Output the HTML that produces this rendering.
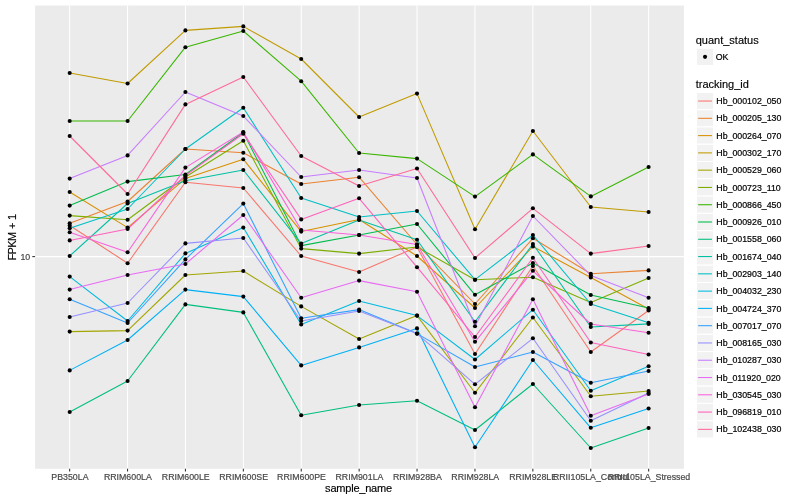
<!DOCTYPE html><html><head><meta charset="utf-8"><title>plot</title><style>html,body{margin:0;padding:0;background:#fff}svg{display:block}text{font-family:"Liberation Sans",sans-serif}</style></head><body>
<svg width="800" height="500" viewBox="0 0 800 500">
<rect width="800" height="500" fill="#fff"/>
<rect x="35.1" y="5.5" width="648.8" height="463.3" fill="#EBEBEB"/>
<g stroke="#fff" stroke-width="1.07">
<line x1="35.1" x2="683.9" y1="256.6" y2="256.6"/>
<line x1="69.65" x2="69.65" y1="5.5" y2="468.8"/>
<line x1="127.55000000000001" x2="127.55000000000001" y1="5.5" y2="468.8"/>
<line x1="185.45" x2="185.45" y1="5.5" y2="468.8"/>
<line x1="243.35" x2="243.35" y1="5.5" y2="468.8"/>
<line x1="301.25" x2="301.25" y1="5.5" y2="468.8"/>
<line x1="359.15" x2="359.15" y1="5.5" y2="468.8"/>
<line x1="417.04999999999995" x2="417.04999999999995" y1="5.5" y2="468.8"/>
<line x1="474.95000000000005" x2="474.95000000000005" y1="5.5" y2="468.8"/>
<line x1="532.85" x2="532.85" y1="5.5" y2="468.8"/>
<line x1="590.75" x2="590.75" y1="5.5" y2="468.8"/>
<line x1="648.65" x2="648.65" y1="5.5" y2="468.8"/>
</g>
<g fill="none" stroke-width="1.07" stroke-linejoin="round" stroke-linecap="butt">
<polyline stroke="#F8766D" points="69.7,225.5 127.6,263.2 185.4,182.2 243.3,188.0 301.2,256.0 359.1,272.0 417.0,247.0 475.0,354.0 532.9,266.0 590.8,352.0 648.6,310.5"/>
<polyline stroke="#EA8331" points="69.7,223.2 127.6,201.5 185.4,149.0 243.3,152.8 301.2,184.0 359.1,177.2 417.0,244.5 475.0,304.0 532.9,238.3 590.8,273.8 648.6,270.4"/>
<polyline stroke="#D89000" points="69.7,192.0 127.6,227.6 185.4,178.6 243.3,159.2 301.2,231.6 359.1,219.5 417.0,256.0 475.0,308.0 532.9,246.5 590.8,277.5 648.6,309.0"/>
<polyline stroke="#C09B00" points="69.7,73.0 127.6,83.5 185.4,30.4 243.3,26.4 301.2,59.0 359.1,117.0 417.0,93.6 475.0,229.2 532.9,131.0 590.8,207.0 648.6,212.0"/>
<polyline stroke="#A3A500" points="69.7,331.6 127.6,330.6 185.4,275.0 243.3,271.0 301.2,306.4 359.1,339.0 417.0,315.6 475.0,392.8 532.9,317.5 590.8,396.3 648.6,391.0"/>
<polyline stroke="#7CAE00" points="69.7,215.6 127.6,219.8 185.4,177.0 243.3,140.8 301.2,248.6 359.1,253.6 417.0,247.0 475.0,279.7 532.9,277.2 590.8,302.5 648.6,278.0"/>
<polyline stroke="#39B600" points="69.7,121.0 127.6,121.0 185.4,47.2 243.3,31.0 301.2,81.2 359.1,153.0 417.0,158.6 475.0,196.6 532.9,154.4 590.8,196.4 648.6,167.0"/>
<polyline stroke="#00BB4E" points="69.7,205.6 127.6,181.6 185.4,174.5 243.3,132.5 301.2,245.6 359.1,235.0 417.0,224.0 475.0,294.8 532.9,263.0 590.8,295.0 648.6,308.0"/>
<polyline stroke="#00BF7D" points="69.7,412.0 127.6,381.0 185.4,304.4 243.3,312.4 301.2,415.2 359.1,405.0 417.0,400.8 475.0,430.0 532.9,384.0 590.8,448.0 648.6,428.0"/>
<polyline stroke="#00C1A3" points="69.7,256.0 127.6,203.5 185.4,180.8 243.3,170.0 301.2,243.6 359.1,220.0 417.0,239.8 475.0,321.8 532.9,244.0 590.8,327.0 648.6,323.9"/>
<polyline stroke="#00BFC4" points="69.7,228.2 127.6,209.0 185.4,149.0 243.3,107.8 301.2,198.0 359.1,217.0 417.0,211.0 475.0,279.7 532.9,235.0 590.8,304.0 648.6,322.8"/>
<polyline stroke="#00BAE0" points="69.7,276.6 127.6,321.0 185.4,253.4 243.3,227.6 301.2,324.5 359.1,301.0 417.0,315.6 475.0,359.5 532.9,309.7 590.8,390.8 648.6,366.3"/>
<polyline stroke="#00B0F6" points="69.7,370.4 127.6,340.0 185.4,289.6 243.3,296.6 301.2,365.4 359.1,347.4 417.0,328.4 475.0,447.2 532.9,360.0 590.8,427.8 648.6,408.5"/>
<polyline stroke="#35A2FF" points="69.7,299.2 127.6,323.0 185.4,259.4 243.3,203.6 301.2,318.2 359.1,309.6 417.0,333.6 475.0,367.0 532.9,352.0 590.8,382.7 648.6,371.0"/>
<polyline stroke="#9590FF" points="69.7,317.0 127.6,303.0 185.4,243.4 243.3,238.0 301.2,321.0 359.1,311.0 417.0,333.6 475.0,384.3 532.9,338.3 590.8,420.8 648.6,393.0"/>
<polyline stroke="#C77CFF" points="69.7,178.6 127.6,155.4 185.4,92.0 243.3,116.0 301.2,177.0 359.1,170.0 417.0,178.0 475.0,326.3 532.9,216.0 590.8,275.5 648.6,297.8"/>
<polyline stroke="#E76BF3" points="69.7,289.6 127.6,275.0 185.4,264.0 243.3,215.0 301.2,297.8 359.1,280.6 417.0,291.8 475.0,407.2 532.9,299.3 590.8,415.8 648.6,394.0"/>
<polyline stroke="#FA62DB" points="69.7,232.2 127.6,252.2 185.4,167.6 243.3,132.0 301.2,230.0 359.1,235.0 417.0,244.5 475.0,341.8 532.9,270.8 590.8,324.0 648.6,332.8"/>
<polyline stroke="#FF62BC" points="69.7,240.4 127.6,229.0 185.4,175.5 243.3,133.8 301.2,219.4 359.1,198.3 417.0,267.2 475.0,337.0 532.9,257.8 590.8,342.5 648.6,354.5"/>
<polyline stroke="#FF6A98" points="69.7,136.0 127.6,194.0 185.4,104.4 243.3,77.0 301.2,156.0 359.1,186.0 417.0,168.5 475.0,258.0 532.9,208.3 590.8,253.6 648.6,246.0"/>
</g>
<g fill="#000">
<circle cx="69.7" cy="225.5" r="2.05"/>
<circle cx="127.6" cy="263.2" r="2.05"/>
<circle cx="185.4" cy="182.2" r="2.05"/>
<circle cx="243.3" cy="188.0" r="2.05"/>
<circle cx="301.2" cy="256.0" r="2.05"/>
<circle cx="359.1" cy="272.0" r="2.05"/>
<circle cx="417.0" cy="247.0" r="2.05"/>
<circle cx="475.0" cy="354.0" r="2.05"/>
<circle cx="532.9" cy="266.0" r="2.05"/>
<circle cx="590.8" cy="352.0" r="2.05"/>
<circle cx="648.6" cy="310.5" r="2.05"/>
<circle cx="69.7" cy="223.2" r="2.05"/>
<circle cx="127.6" cy="201.5" r="2.05"/>
<circle cx="185.4" cy="149.0" r="2.05"/>
<circle cx="243.3" cy="152.8" r="2.05"/>
<circle cx="301.2" cy="184.0" r="2.05"/>
<circle cx="359.1" cy="177.2" r="2.05"/>
<circle cx="417.0" cy="244.5" r="2.05"/>
<circle cx="475.0" cy="304.0" r="2.05"/>
<circle cx="532.9" cy="238.3" r="2.05"/>
<circle cx="590.8" cy="273.8" r="2.05"/>
<circle cx="648.6" cy="270.4" r="2.05"/>
<circle cx="69.7" cy="192.0" r="2.05"/>
<circle cx="127.6" cy="227.6" r="2.05"/>
<circle cx="185.4" cy="178.6" r="2.05"/>
<circle cx="243.3" cy="159.2" r="2.05"/>
<circle cx="301.2" cy="231.6" r="2.05"/>
<circle cx="359.1" cy="219.5" r="2.05"/>
<circle cx="417.0" cy="256.0" r="2.05"/>
<circle cx="475.0" cy="308.0" r="2.05"/>
<circle cx="532.9" cy="246.5" r="2.05"/>
<circle cx="590.8" cy="277.5" r="2.05"/>
<circle cx="648.6" cy="309.0" r="2.05"/>
<circle cx="69.7" cy="73.0" r="2.05"/>
<circle cx="127.6" cy="83.5" r="2.05"/>
<circle cx="185.4" cy="30.4" r="2.05"/>
<circle cx="243.3" cy="26.4" r="2.05"/>
<circle cx="301.2" cy="59.0" r="2.05"/>
<circle cx="359.1" cy="117.0" r="2.05"/>
<circle cx="417.0" cy="93.6" r="2.05"/>
<circle cx="475.0" cy="229.2" r="2.05"/>
<circle cx="532.9" cy="131.0" r="2.05"/>
<circle cx="590.8" cy="207.0" r="2.05"/>
<circle cx="648.6" cy="212.0" r="2.05"/>
<circle cx="69.7" cy="331.6" r="2.05"/>
<circle cx="127.6" cy="330.6" r="2.05"/>
<circle cx="185.4" cy="275.0" r="2.05"/>
<circle cx="243.3" cy="271.0" r="2.05"/>
<circle cx="301.2" cy="306.4" r="2.05"/>
<circle cx="359.1" cy="339.0" r="2.05"/>
<circle cx="417.0" cy="315.6" r="2.05"/>
<circle cx="475.0" cy="392.8" r="2.05"/>
<circle cx="532.9" cy="317.5" r="2.05"/>
<circle cx="590.8" cy="396.3" r="2.05"/>
<circle cx="648.6" cy="391.0" r="2.05"/>
<circle cx="69.7" cy="215.6" r="2.05"/>
<circle cx="127.6" cy="219.8" r="2.05"/>
<circle cx="185.4" cy="177.0" r="2.05"/>
<circle cx="243.3" cy="140.8" r="2.05"/>
<circle cx="301.2" cy="248.6" r="2.05"/>
<circle cx="359.1" cy="253.6" r="2.05"/>
<circle cx="417.0" cy="247.0" r="2.05"/>
<circle cx="475.0" cy="279.7" r="2.05"/>
<circle cx="532.9" cy="277.2" r="2.05"/>
<circle cx="590.8" cy="302.5" r="2.05"/>
<circle cx="648.6" cy="278.0" r="2.05"/>
<circle cx="69.7" cy="121.0" r="2.05"/>
<circle cx="127.6" cy="121.0" r="2.05"/>
<circle cx="185.4" cy="47.2" r="2.05"/>
<circle cx="243.3" cy="31.0" r="2.05"/>
<circle cx="301.2" cy="81.2" r="2.05"/>
<circle cx="359.1" cy="153.0" r="2.05"/>
<circle cx="417.0" cy="158.6" r="2.05"/>
<circle cx="475.0" cy="196.6" r="2.05"/>
<circle cx="532.9" cy="154.4" r="2.05"/>
<circle cx="590.8" cy="196.4" r="2.05"/>
<circle cx="648.6" cy="167.0" r="2.05"/>
<circle cx="69.7" cy="205.6" r="2.05"/>
<circle cx="127.6" cy="181.6" r="2.05"/>
<circle cx="185.4" cy="174.5" r="2.05"/>
<circle cx="243.3" cy="132.5" r="2.05"/>
<circle cx="301.2" cy="245.6" r="2.05"/>
<circle cx="359.1" cy="235.0" r="2.05"/>
<circle cx="417.0" cy="224.0" r="2.05"/>
<circle cx="475.0" cy="294.8" r="2.05"/>
<circle cx="532.9" cy="263.0" r="2.05"/>
<circle cx="590.8" cy="295.0" r="2.05"/>
<circle cx="648.6" cy="308.0" r="2.05"/>
<circle cx="69.7" cy="412.0" r="2.05"/>
<circle cx="127.6" cy="381.0" r="2.05"/>
<circle cx="185.4" cy="304.4" r="2.05"/>
<circle cx="243.3" cy="312.4" r="2.05"/>
<circle cx="301.2" cy="415.2" r="2.05"/>
<circle cx="359.1" cy="405.0" r="2.05"/>
<circle cx="417.0" cy="400.8" r="2.05"/>
<circle cx="475.0" cy="430.0" r="2.05"/>
<circle cx="532.9" cy="384.0" r="2.05"/>
<circle cx="590.8" cy="448.0" r="2.05"/>
<circle cx="648.6" cy="428.0" r="2.05"/>
<circle cx="69.7" cy="256.0" r="2.05"/>
<circle cx="127.6" cy="203.5" r="2.05"/>
<circle cx="185.4" cy="180.8" r="2.05"/>
<circle cx="243.3" cy="170.0" r="2.05"/>
<circle cx="301.2" cy="243.6" r="2.05"/>
<circle cx="359.1" cy="220.0" r="2.05"/>
<circle cx="417.0" cy="239.8" r="2.05"/>
<circle cx="475.0" cy="321.8" r="2.05"/>
<circle cx="532.9" cy="244.0" r="2.05"/>
<circle cx="590.8" cy="327.0" r="2.05"/>
<circle cx="648.6" cy="323.9" r="2.05"/>
<circle cx="69.7" cy="228.2" r="2.05"/>
<circle cx="127.6" cy="209.0" r="2.05"/>
<circle cx="185.4" cy="149.0" r="2.05"/>
<circle cx="243.3" cy="107.8" r="2.05"/>
<circle cx="301.2" cy="198.0" r="2.05"/>
<circle cx="359.1" cy="217.0" r="2.05"/>
<circle cx="417.0" cy="211.0" r="2.05"/>
<circle cx="475.0" cy="279.7" r="2.05"/>
<circle cx="532.9" cy="235.0" r="2.05"/>
<circle cx="590.8" cy="304.0" r="2.05"/>
<circle cx="648.6" cy="322.8" r="2.05"/>
<circle cx="69.7" cy="276.6" r="2.05"/>
<circle cx="127.6" cy="321.0" r="2.05"/>
<circle cx="185.4" cy="253.4" r="2.05"/>
<circle cx="243.3" cy="227.6" r="2.05"/>
<circle cx="301.2" cy="324.5" r="2.05"/>
<circle cx="359.1" cy="301.0" r="2.05"/>
<circle cx="417.0" cy="315.6" r="2.05"/>
<circle cx="475.0" cy="359.5" r="2.05"/>
<circle cx="532.9" cy="309.7" r="2.05"/>
<circle cx="590.8" cy="390.8" r="2.05"/>
<circle cx="648.6" cy="366.3" r="2.05"/>
<circle cx="69.7" cy="370.4" r="2.05"/>
<circle cx="127.6" cy="340.0" r="2.05"/>
<circle cx="185.4" cy="289.6" r="2.05"/>
<circle cx="243.3" cy="296.6" r="2.05"/>
<circle cx="301.2" cy="365.4" r="2.05"/>
<circle cx="359.1" cy="347.4" r="2.05"/>
<circle cx="417.0" cy="328.4" r="2.05"/>
<circle cx="475.0" cy="447.2" r="2.05"/>
<circle cx="532.9" cy="360.0" r="2.05"/>
<circle cx="590.8" cy="427.8" r="2.05"/>
<circle cx="648.6" cy="408.5" r="2.05"/>
<circle cx="69.7" cy="299.2" r="2.05"/>
<circle cx="127.6" cy="323.0" r="2.05"/>
<circle cx="185.4" cy="259.4" r="2.05"/>
<circle cx="243.3" cy="203.6" r="2.05"/>
<circle cx="301.2" cy="318.2" r="2.05"/>
<circle cx="359.1" cy="309.6" r="2.05"/>
<circle cx="417.0" cy="333.6" r="2.05"/>
<circle cx="475.0" cy="367.0" r="2.05"/>
<circle cx="532.9" cy="352.0" r="2.05"/>
<circle cx="590.8" cy="382.7" r="2.05"/>
<circle cx="648.6" cy="371.0" r="2.05"/>
<circle cx="69.7" cy="317.0" r="2.05"/>
<circle cx="127.6" cy="303.0" r="2.05"/>
<circle cx="185.4" cy="243.4" r="2.05"/>
<circle cx="243.3" cy="238.0" r="2.05"/>
<circle cx="301.2" cy="321.0" r="2.05"/>
<circle cx="359.1" cy="311.0" r="2.05"/>
<circle cx="417.0" cy="333.6" r="2.05"/>
<circle cx="475.0" cy="384.3" r="2.05"/>
<circle cx="532.9" cy="338.3" r="2.05"/>
<circle cx="590.8" cy="420.8" r="2.05"/>
<circle cx="648.6" cy="393.0" r="2.05"/>
<circle cx="69.7" cy="178.6" r="2.05"/>
<circle cx="127.6" cy="155.4" r="2.05"/>
<circle cx="185.4" cy="92.0" r="2.05"/>
<circle cx="243.3" cy="116.0" r="2.05"/>
<circle cx="301.2" cy="177.0" r="2.05"/>
<circle cx="359.1" cy="170.0" r="2.05"/>
<circle cx="417.0" cy="178.0" r="2.05"/>
<circle cx="475.0" cy="326.3" r="2.05"/>
<circle cx="532.9" cy="216.0" r="2.05"/>
<circle cx="590.8" cy="275.5" r="2.05"/>
<circle cx="648.6" cy="297.8" r="2.05"/>
<circle cx="69.7" cy="289.6" r="2.05"/>
<circle cx="127.6" cy="275.0" r="2.05"/>
<circle cx="185.4" cy="264.0" r="2.05"/>
<circle cx="243.3" cy="215.0" r="2.05"/>
<circle cx="301.2" cy="297.8" r="2.05"/>
<circle cx="359.1" cy="280.6" r="2.05"/>
<circle cx="417.0" cy="291.8" r="2.05"/>
<circle cx="475.0" cy="407.2" r="2.05"/>
<circle cx="532.9" cy="299.3" r="2.05"/>
<circle cx="590.8" cy="415.8" r="2.05"/>
<circle cx="648.6" cy="394.0" r="2.05"/>
<circle cx="69.7" cy="232.2" r="2.05"/>
<circle cx="127.6" cy="252.2" r="2.05"/>
<circle cx="185.4" cy="167.6" r="2.05"/>
<circle cx="243.3" cy="132.0" r="2.05"/>
<circle cx="301.2" cy="230.0" r="2.05"/>
<circle cx="359.1" cy="235.0" r="2.05"/>
<circle cx="417.0" cy="244.5" r="2.05"/>
<circle cx="475.0" cy="341.8" r="2.05"/>
<circle cx="532.9" cy="270.8" r="2.05"/>
<circle cx="590.8" cy="324.0" r="2.05"/>
<circle cx="648.6" cy="332.8" r="2.05"/>
<circle cx="69.7" cy="240.4" r="2.05"/>
<circle cx="127.6" cy="229.0" r="2.05"/>
<circle cx="185.4" cy="175.5" r="2.05"/>
<circle cx="243.3" cy="133.8" r="2.05"/>
<circle cx="301.2" cy="219.4" r="2.05"/>
<circle cx="359.1" cy="198.3" r="2.05"/>
<circle cx="417.0" cy="267.2" r="2.05"/>
<circle cx="475.0" cy="337.0" r="2.05"/>
<circle cx="532.9" cy="257.8" r="2.05"/>
<circle cx="590.8" cy="342.5" r="2.05"/>
<circle cx="648.6" cy="354.5" r="2.05"/>
<circle cx="69.7" cy="136.0" r="2.05"/>
<circle cx="127.6" cy="194.0" r="2.05"/>
<circle cx="185.4" cy="104.4" r="2.05"/>
<circle cx="243.3" cy="77.0" r="2.05"/>
<circle cx="301.2" cy="156.0" r="2.05"/>
<circle cx="359.1" cy="186.0" r="2.05"/>
<circle cx="417.0" cy="168.5" r="2.05"/>
<circle cx="475.0" cy="258.0" r="2.05"/>
<circle cx="532.9" cy="208.3" r="2.05"/>
<circle cx="590.8" cy="253.6" r="2.05"/>
<circle cx="648.6" cy="246.0" r="2.05"/>
</g>
<g stroke="#333" stroke-width="1.07">
<line x1="32.3" x2="35.1" y1="256.6" y2="256.6"/>
<line x1="69.65" x2="69.65" y1="468.8" y2="471.6"/>
<line x1="127.55000000000001" x2="127.55000000000001" y1="468.8" y2="471.6"/>
<line x1="185.45" x2="185.45" y1="468.8" y2="471.6"/>
<line x1="243.35" x2="243.35" y1="468.8" y2="471.6"/>
<line x1="301.25" x2="301.25" y1="468.8" y2="471.6"/>
<line x1="359.15" x2="359.15" y1="468.8" y2="471.6"/>
<line x1="417.04999999999995" x2="417.04999999999995" y1="468.8" y2="471.6"/>
<line x1="474.95000000000005" x2="474.95000000000005" y1="468.8" y2="471.6"/>
<line x1="532.85" x2="532.85" y1="468.8" y2="471.6"/>
<line x1="590.75" x2="590.75" y1="468.8" y2="471.6"/>
<line x1="648.65" x2="648.65" y1="468.8" y2="471.6"/>
</g>
<g font-size="8.8" fill="#454545" stroke="#4D4D4D" stroke-width="0.2">
<text x="30.2" y="259.8" text-anchor="end">10</text>
<text x="69.95" y="479.9" text-anchor="middle">PB350LA</text>
<text x="127.85" y="479.9" text-anchor="middle">RRIM600LA</text>
<text x="185.75" y="479.9" text-anchor="middle">RRIM600LE</text>
<text x="243.65" y="479.9" text-anchor="middle">RRIM600SE</text>
<text x="301.55" y="479.9" text-anchor="middle">RRIM600PE</text>
<text x="359.45" y="479.9" text-anchor="middle">RRIM901LA</text>
<text x="417.35" y="479.9" text-anchor="middle">RRIM928BA</text>
<text x="475.25" y="479.9" text-anchor="middle">RRIM928LA</text>
<text x="533.15" y="479.9" text-anchor="middle">RRIM928LE</text>
<text x="591.05" y="479.9" text-anchor="middle">RRII105LA_Control</text>
<text x="648.95" y="479.9" text-anchor="middle">RRII105LA_Stressed</text>
</g>
<g font-size="11" fill="#000" stroke="#000" stroke-width="0.15">
<text x="358.6" y="492.2" text-anchor="middle" textLength="67" lengthAdjust="spacing">sample_name</text>
<text transform="translate(16.3,260.6) rotate(-90)" text-anchor="start" style="letter-spacing:-0.6px;word-spacing:0.9px">FPKM + 1</text>
<text x="695.7" y="44">quant_status</text>
<text x="695.7" y="87.6">tracking_id</text>
</g>
<rect x="696.4" y="48.2" width="17.28" height="17.28" fill="#F2F2F2" stroke="#fff" stroke-width="1.07"/>
<circle cx="705.04" cy="56.84" r="2.05" fill="#000"/>
<text x="715.7" y="59.94" font-size="8.8" fill="#000" stroke="#000" stroke-width="0.2">OK</text>
<rect x="696.4" y="92.40" width="17.28" height="17.28" fill="#F2F2F2" stroke="#fff" stroke-width="1.07"/>
<line x1="698.13" x2="711.95" y1="101.04" y2="101.04" stroke="#F8766D" stroke-width="1.07"/>
<text x="716.3" y="104.14" font-size="8.8" fill="#000" stroke="#000" stroke-width="0.2">Hb_000102_050</text>
<rect x="696.4" y="109.68" width="17.28" height="17.28" fill="#F2F2F2" stroke="#fff" stroke-width="1.07"/>
<line x1="698.13" x2="711.95" y1="118.32" y2="118.32" stroke="#EA8331" stroke-width="1.07"/>
<text x="716.3" y="121.42" font-size="8.8" fill="#000" stroke="#000" stroke-width="0.2">Hb_000205_130</text>
<rect x="696.4" y="126.96" width="17.28" height="17.28" fill="#F2F2F2" stroke="#fff" stroke-width="1.07"/>
<line x1="698.13" x2="711.95" y1="135.60" y2="135.60" stroke="#D89000" stroke-width="1.07"/>
<text x="716.3" y="138.70" font-size="8.8" fill="#000" stroke="#000" stroke-width="0.2">Hb_000264_070</text>
<rect x="696.4" y="144.24" width="17.28" height="17.28" fill="#F2F2F2" stroke="#fff" stroke-width="1.07"/>
<line x1="698.13" x2="711.95" y1="152.88" y2="152.88" stroke="#C09B00" stroke-width="1.07"/>
<text x="716.3" y="155.98" font-size="8.8" fill="#000" stroke="#000" stroke-width="0.2">Hb_000302_170</text>
<rect x="696.4" y="161.52" width="17.28" height="17.28" fill="#F2F2F2" stroke="#fff" stroke-width="1.07"/>
<line x1="698.13" x2="711.95" y1="170.16" y2="170.16" stroke="#A3A500" stroke-width="1.07"/>
<text x="716.3" y="173.26" font-size="8.8" fill="#000" stroke="#000" stroke-width="0.2">Hb_000529_060</text>
<rect x="696.4" y="178.80" width="17.28" height="17.28" fill="#F2F2F2" stroke="#fff" stroke-width="1.07"/>
<line x1="698.13" x2="711.95" y1="187.44" y2="187.44" stroke="#7CAE00" stroke-width="1.07"/>
<text x="716.3" y="190.54" font-size="8.8" fill="#000" stroke="#000" stroke-width="0.2">Hb_000723_110</text>
<rect x="696.4" y="196.08" width="17.28" height="17.28" fill="#F2F2F2" stroke="#fff" stroke-width="1.07"/>
<line x1="698.13" x2="711.95" y1="204.72" y2="204.72" stroke="#39B600" stroke-width="1.07"/>
<text x="716.3" y="207.82" font-size="8.8" fill="#000" stroke="#000" stroke-width="0.2">Hb_000866_450</text>
<rect x="696.4" y="213.36" width="17.28" height="17.28" fill="#F2F2F2" stroke="#fff" stroke-width="1.07"/>
<line x1="698.13" x2="711.95" y1="222.00" y2="222.00" stroke="#00BB4E" stroke-width="1.07"/>
<text x="716.3" y="225.10" font-size="8.8" fill="#000" stroke="#000" stroke-width="0.2">Hb_000926_010</text>
<rect x="696.4" y="230.64" width="17.28" height="17.28" fill="#F2F2F2" stroke="#fff" stroke-width="1.07"/>
<line x1="698.13" x2="711.95" y1="239.28" y2="239.28" stroke="#00BF7D" stroke-width="1.07"/>
<text x="716.3" y="242.38" font-size="8.8" fill="#000" stroke="#000" stroke-width="0.2">Hb_001558_060</text>
<rect x="696.4" y="247.92" width="17.28" height="17.28" fill="#F2F2F2" stroke="#fff" stroke-width="1.07"/>
<line x1="698.13" x2="711.95" y1="256.56" y2="256.56" stroke="#00C1A3" stroke-width="1.07"/>
<text x="716.3" y="259.66" font-size="8.8" fill="#000" stroke="#000" stroke-width="0.2">Hb_001674_040</text>
<rect x="696.4" y="265.20" width="17.28" height="17.28" fill="#F2F2F2" stroke="#fff" stroke-width="1.07"/>
<line x1="698.13" x2="711.95" y1="273.84" y2="273.84" stroke="#00BFC4" stroke-width="1.07"/>
<text x="716.3" y="276.94" font-size="8.8" fill="#000" stroke="#000" stroke-width="0.2">Hb_002903_140</text>
<rect x="696.4" y="282.48" width="17.28" height="17.28" fill="#F2F2F2" stroke="#fff" stroke-width="1.07"/>
<line x1="698.13" x2="711.95" y1="291.12" y2="291.12" stroke="#00BAE0" stroke-width="1.07"/>
<text x="716.3" y="294.22" font-size="8.8" fill="#000" stroke="#000" stroke-width="0.2">Hb_004032_230</text>
<rect x="696.4" y="299.76" width="17.28" height="17.28" fill="#F2F2F2" stroke="#fff" stroke-width="1.07"/>
<line x1="698.13" x2="711.95" y1="308.40" y2="308.40" stroke="#00B0F6" stroke-width="1.07"/>
<text x="716.3" y="311.50" font-size="8.8" fill="#000" stroke="#000" stroke-width="0.2">Hb_004724_370</text>
<rect x="696.4" y="317.04" width="17.28" height="17.28" fill="#F2F2F2" stroke="#fff" stroke-width="1.07"/>
<line x1="698.13" x2="711.95" y1="325.68" y2="325.68" stroke="#35A2FF" stroke-width="1.07"/>
<text x="716.3" y="328.78" font-size="8.8" fill="#000" stroke="#000" stroke-width="0.2">Hb_007017_070</text>
<rect x="696.4" y="334.32" width="17.28" height="17.28" fill="#F2F2F2" stroke="#fff" stroke-width="1.07"/>
<line x1="698.13" x2="711.95" y1="342.96" y2="342.96" stroke="#9590FF" stroke-width="1.07"/>
<text x="716.3" y="346.06" font-size="8.8" fill="#000" stroke="#000" stroke-width="0.2">Hb_008165_030</text>
<rect x="696.4" y="351.60" width="17.28" height="17.28" fill="#F2F2F2" stroke="#fff" stroke-width="1.07"/>
<line x1="698.13" x2="711.95" y1="360.24" y2="360.24" stroke="#C77CFF" stroke-width="1.07"/>
<text x="716.3" y="363.34" font-size="8.8" fill="#000" stroke="#000" stroke-width="0.2">Hb_010287_030</text>
<rect x="696.4" y="368.88" width="17.28" height="17.28" fill="#F2F2F2" stroke="#fff" stroke-width="1.07"/>
<line x1="698.13" x2="711.95" y1="377.52" y2="377.52" stroke="#E76BF3" stroke-width="1.07"/>
<text x="716.3" y="380.62" font-size="8.8" fill="#000" stroke="#000" stroke-width="0.2">Hb_011920_020</text>
<rect x="696.4" y="386.16" width="17.28" height="17.28" fill="#F2F2F2" stroke="#fff" stroke-width="1.07"/>
<line x1="698.13" x2="711.95" y1="394.80" y2="394.80" stroke="#FA62DB" stroke-width="1.07"/>
<text x="716.3" y="397.90" font-size="8.8" fill="#000" stroke="#000" stroke-width="0.2">Hb_030545_030</text>
<rect x="696.4" y="403.44" width="17.28" height="17.28" fill="#F2F2F2" stroke="#fff" stroke-width="1.07"/>
<line x1="698.13" x2="711.95" y1="412.08" y2="412.08" stroke="#FF62BC" stroke-width="1.07"/>
<text x="716.3" y="415.18" font-size="8.8" fill="#000" stroke="#000" stroke-width="0.2">Hb_096819_010</text>
<rect x="696.4" y="420.72" width="17.28" height="17.28" fill="#F2F2F2" stroke="#fff" stroke-width="1.07"/>
<line x1="698.13" x2="711.95" y1="429.36" y2="429.36" stroke="#FF6A98" stroke-width="1.07"/>
<text x="716.3" y="432.46" font-size="8.8" fill="#000" stroke="#000" stroke-width="0.2">Hb_102438_030</text>
</svg></body></html>
